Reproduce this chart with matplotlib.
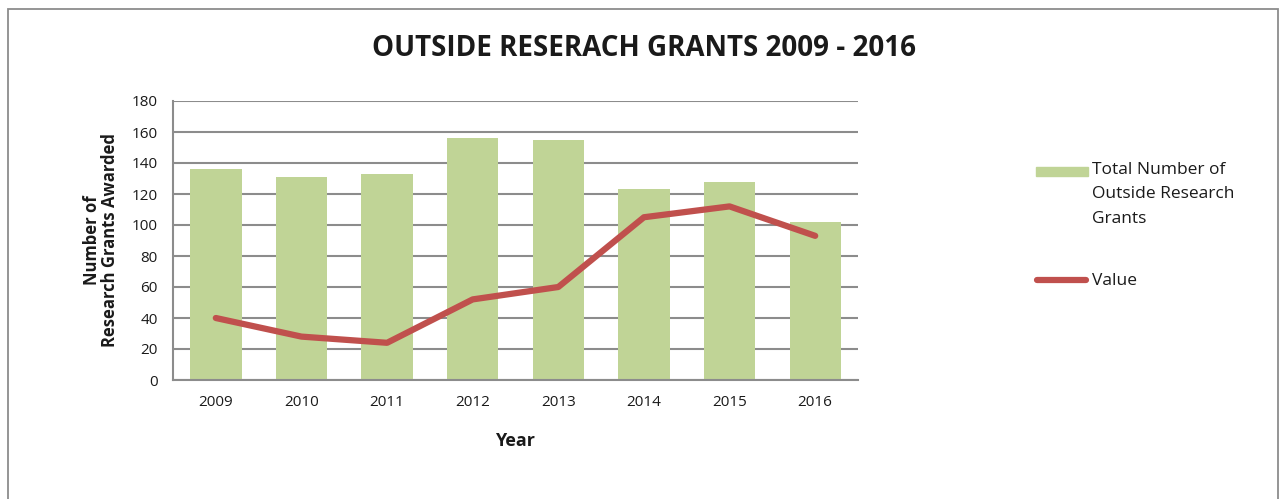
import matplotlib.pyplot as plt
import matplotlib.patches as mpatches
from matplotlib.lines import Line2D

plt.rcParams['font.family'] = ['Open Sans', 'DejaVu Sans']

years = ["2009", "2010", "2011", "2012", "2013", "2014", "2015", "2016"]
total_grants = [136, 131, 133, 156, 155, 123, 128, 102]
value = [40, 28, 24, 52, 60, 105, 112, 93]

BAR_GREEN = "#c0d496"
LINE_RED = "#c0504d"
GRID = "#8c8c8c"
TEXT = "#1a1a1a"

W, H = 1282, 499
fig = plt.figure(figsize=(W / 100, H / 100), dpi=100)
fig.patch.set_facecolor("white")

def fx(px):
    return px / W

def fy(py):
    return 1 - py / H

# outer chart border
fig.patches.append(mpatches.Rectangle((fx(8), -0.01), fx(1270), 1 - 9 / H + 0.01,
                                      transform=fig.transFigure, fill=False,
                                      ec="#8c8c8c", lw=1.3))

ax = fig.add_axes([fx(173), fy(380), fx(685), 279 / H])
x = range(len(years))
ax.bar(x, total_grants, width=0.6, color=BAR_GREEN, zorder=2)
ax.plot(x, value, color=LINE_RED, lw=4.5, solid_capstyle='round', zorder=3)

ax.set_xlim(-0.5, len(years) - 0.5)
ax.set_ylim(0, 180)
ax.set_yticks(range(0, 181, 20))
ax.set_xticks(list(x))
ax.set_xticklabels(years)
ax.yaxis.grid(True, color=GRID, lw=1.5, zorder=0)
ax.set_axisbelow(True)
ax.tick_params(axis='both', length=0, labelsize=11, colors=TEXT)
ax.tick_params(axis='x', pad=11)
ax.tick_params(axis='y', pad=11)
for s in ['top', 'right']:
    ax.spines[s].set_visible(False)
for s in ['left', 'bottom']:
    ax.spines[s].set_color(GRID)
    ax.spines[s].set_linewidth(1.5)

ax.set_xlabel("Year", fontsize=13, weight='bold', color=TEXT, labelpad=16)
ax.set_ylabel("Number of\nResearch Grants Awarded", fontsize=12, weight='bold',
              color=TEXT, labelpad=9, linespacing=1.0)

fig.text(0.502, fy(48), "OUTSIDE RESERACH GRANTS 2009 - 2016", ha='center', va='center',
         fontsize=20, weight='bold', color=TEXT)

# legend, drawn by hand so the swatch lines up with the first text line
fig.patches.append(mpatches.Rectangle((fx(1036), fy(176)), fx(52), 9 / H,
                                      transform=fig.transFigure, color=BAR_GREEN))
fig.lines.append(Line2D([fx(1037), fx(1086)], [fy(280), fy(280)], transform=fig.transFigure,
                        color=LINE_RED, lw=4.5, solid_capstyle='round'))
fig.text(fx(1092), fy(162), "Total Number of\nOutside Research\nGrants", ha='left', va='top',
         fontsize=12.5, color=TEXT, linespacing=1.7)
fig.text(fx(1092), fy(281), "Value", ha='left', va='center', fontsize=12.5, color=TEXT)

fig.savefig("out.png", dpi=100)
